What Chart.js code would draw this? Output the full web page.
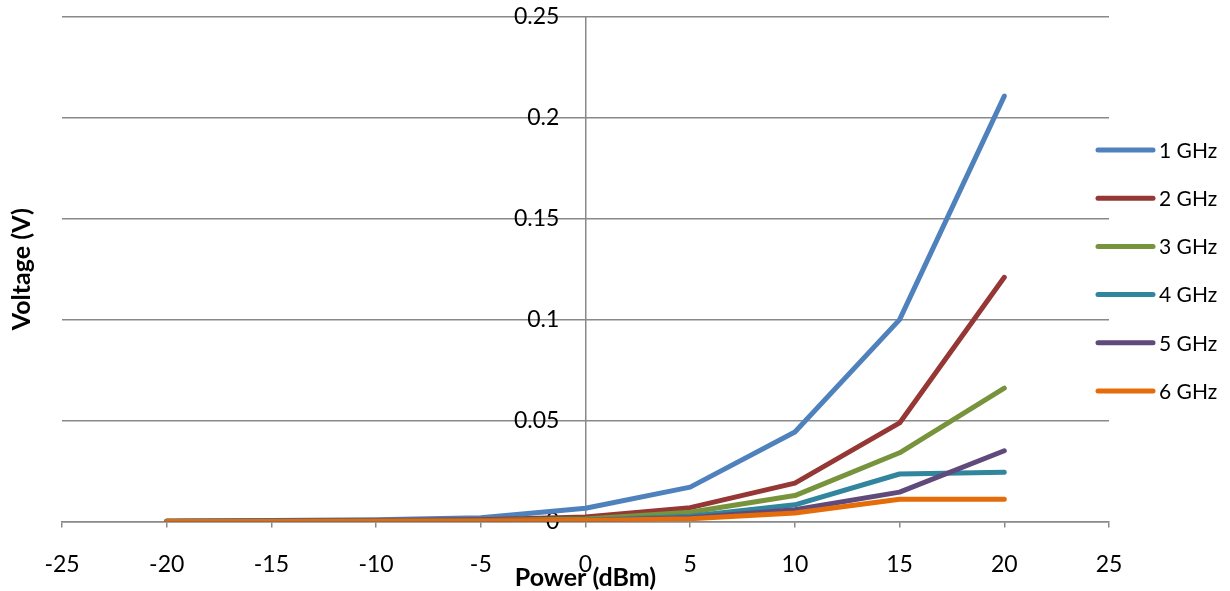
<!DOCTYPE html>
<html>
<head>
<meta charset="utf-8">
<script src="https://cdn.jsdelivr.net/npm/chart.js@4.4.0/dist/chart.umd.min.js"></script>
<style>
  html, body { margin: 0; padding: 0; background: #fff; }
  #wrap { width: 1230px; height: 591px; }
</style>
</head>
<body>
<div id="wrap"><canvas id="powerChart"></canvas></div>
<script>
// power sweep (dBm) and detector output voltage (V) per frequency
const powerDbm = [-20, -15, -10, -5, 0, 5, 10, 15, 20];
const seriesNames = ['1 GHz', '2 GHz', '3 GHz', '4 GHz', '5 GHz', '6 GHz'];
const v1GHz = [0.0002, 0.0004, 0.0008, 0.0018, 0.0065, 0.017, 0.0443, 0.1, 0.2108];
const v2GHz = [0.0001, 0.0002, 0.0004, 0.0008, 0.0022, 0.0068, 0.019, 0.0488, 0.121];
const v3GHz = [0.0001, 0.0001, 0.0002, 0.0004, 0.0012, 0.0045, 0.0128, 0.034, 0.066];
const v4GHz = [0, 0.0001, 0.0001, 0.0002, 0.0006, 0.0025, 0.0082, 0.0235, 0.0243];
const v5GHz = [0, 0.0001, 0.0001, 0.0002, 0.0005, 0.0018, 0.0058, 0.0145, 0.035];
const v6GHz = [0, 0, 0.0001, 0.0002, 0.0004, 0.0013, 0.0042, 0.011, 0.011];
const seriesColors = ['#4F81BD', '#953735', '#77933C', '#31859C', '#604A7B', '#E46C0A'];

const gridGray = '#898989';

function toPoints(values) {
    return values.map((v, i) => ({ x: powerDbm[i], y: v }));
}

// legend drawn at the right, outside the plot like the Excel original
const sideLegend = {
    id: 'sideLegend',
    afterDraw(chart) {
        const ctx = chart.ctx;
        const x0 = 1098, x1 = 1153, top = 150, step = 48.2;
        ctx.save();
        chart.data.datasets.forEach((ds, i) => {
            const y = top + i * step;
            ctx.strokeStyle = ds.borderColor;
            ctx.lineWidth = 5;
            ctx.lineCap = 'round';
            ctx.beginPath();
            ctx.moveTo(x0, y);
            ctx.lineTo(x1, y);
            ctx.stroke();
            ctx.fillStyle = '#000';
            ctx.font = '21px Lato';
            ctx.textBaseline = 'middle';
            ctx.textAlign = 'left';
            ctx.fillText(ds.label, x1 + 6, y + 1);
        });
        ctx.restore();
    }
};

document.addEventListener('DOMContentLoaded', function() {
    Chart.defaults.font.family = 'Lato';
    Chart.defaults.color = '#000';

    const allSeries = [v1GHz, v2GHz, v3GHz, v4GHz, v5GHz, v6GHz];
    const datasets = allSeries.map((vals, i) => ({
        label: seriesNames[i],
        data: toPoints(vals),
        borderColor: seriesColors[i],
        backgroundColor: seriesColors[i],
        borderWidth: 5,
        borderCapStyle: 'round',
        borderJoinStyle: 'round',
        pointRadius: 0,
        tension: 0,
        fill: false,
        order: allSeries.length - i,
        xAxisID: 'x',
        yAxisID: 'y'
    }));

    const ctx = document.getElementById('powerChart').getContext('2d');
    new Chart(ctx, {
        type: 'line',
        data: { datasets: datasets },
        plugins: [sideLegend],
        options: {
            responsive: true,
            maintainAspectRatio: false,
            animation: false,
            layout: { padding: { left: 5, right: 121, top: 17, bottom: 0 } },
            plugins: {
                legend: { display: false },
                tooltip: { enabled: false }
            },
            scales: {
                x: {
                    type: 'linear',
                    min: -25,
                    max: 25,
                    ticks: { stepSize: 5, font: { size: 23 }, padding: 23, maxRotation: 0 },
                    grid: { drawOnChartArea: false, drawTicks: true, tickLength: 6, color: gridGray, lineWidth: 1.5 },
                    border: { display: true, color: gridGray, width: 1.5 },
                    title: {
                        display: true,
                        text: 'Power (dBm)',
                        font: { size: 25, weight: 'bold' },
                        padding: { top: -38, bottom: -2 }
                    }
                },
                // value axis crossing at 0 dBm: grid + axis line only
                y: {
                    type: 'linear',
                    position: { x: 0 },
                    min: 0,
                    max: 0.25,
                    ticks: { stepSize: 0.05, display: false },
                    grid: { color: gridGray, lineWidth: 1.5, drawTicks: false },
                    border: { display: true, color: gridGray, width: 1.5 }
                },
                // tick labels, set a little left of the crossing axis
                yLabels: {
                    type: 'linear',
                    position: { x: -1.25 },
                    min: 0,
                    max: 0.25,
                    ticks: {
                        stepSize: 0.05,
                        padding: 0,
                        font: { size: 23 },
                        callback: v => String(+v.toFixed(2))
                    },
                    grid: { display: false, drawTicks: false },
                    border: { display: false }
                },
                yTitle: {
                    type: 'linear',
                    position: 'left',
                    ticks: { display: false },
                    grid: { display: false, drawTicks: false },
                    border: { display: false },
                    title: {
                        display: true,
                        text: 'Voltage (V)',
                        font: { size: 25, weight: 'bold' },
                        padding: { top: 2, bottom: 25 }
                    }
                }
            }
        }
    });
});
</script>
</body>
</html>
